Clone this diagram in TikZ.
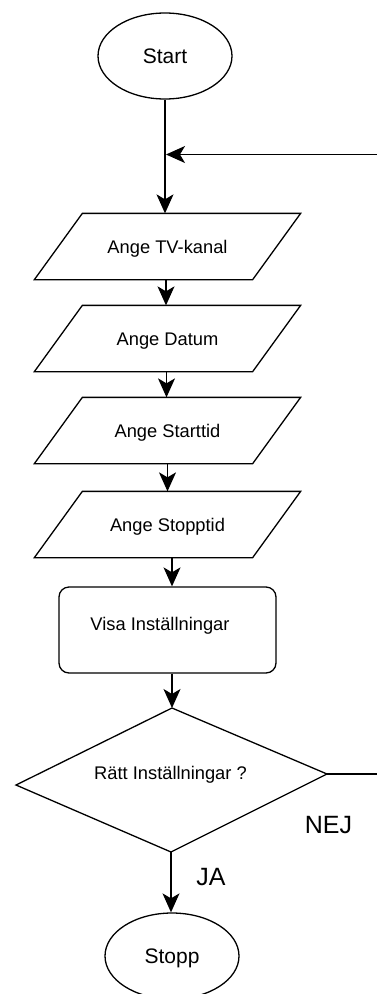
\documentclass[tikz,border=0pt]{standalone}
\usepackage{fontspec}
\setmainfont{Liberation Sans}
\usetikzlibrary{arrows.meta,shapes.geometric}
\newcommand{\bodyfont}{\fontsize{18.3}{22}\selectfont}
\begin{document}
\begin{tikzpicture}[x=1pt,y=-1pt,line width=1.3pt,
  arr/.style={-{Stealth[length=19pt,width=17pt,inset=5pt]}},
  term/.style={ellipse,draw,minimum width=134pt,minimum height=86pt,inner sep=0pt,
    font=\fontsize{21}{25}\selectfont,text height=15pt,text depth=0pt},
  iobox/.style={minimum width=217pt,minimum height=65pt,inner sep=0pt,
    font=\bodyfont,text height=13.1pt,text depth=0pt},
  plain/.style={inner sep=0pt,font=\bodyfont,text height=13.1pt,text depth=0pt},
  answer/.style={inner sep=0pt,anchor=base,font=\fontsize{25}{30}\selectfont}]

  \useasboundingbox (0,0) rectangle (377,994);
  \fill[white] (0,0) rectangle (377,994);

  % terminals
  \node[term] (start) at (165,56) {Start};
  \node[term] (stopp) at (172,956) {Stopp};

  % input steps (parallelograms drawn around the nodes below)
  \node[iobox] (p1) at (167.5,246.5) {Ange TV-kanal};
  \node[iobox] (p2) at (167.5,338.5) {Ange Datum};
  \node[iobox] (p3) at (167.5,430.5) {Ange Starttid};
  \node[iobox] (p4) at (167.5,524.5) {Ange Stopptid};
  \foreach \n in {p1,p2,p3,p4}
    \draw ([xshift=24pt]\n.north west) -- ([xshift=24pt]\n.north east)
       -- ([xshift=-24pt]\n.south east) -- ([xshift=-24pt]\n.south west) -- cycle;

  % display step
  \node[draw,rounded corners=10pt,minimum width=217pt,minimum height=86pt,inner sep=0pt]
    (vis) at (167.5,630) {};
  \node[plain] (vistxt) at (160,624) {Visa Inställningar};

  % decision
  \coordinate (dT) at (172,708);
  \coordinate (dR) at (327,774);
  \coordinate (dB) at (171,852);
  \coordinate (dL) at (16,785);
  \draw (dT) -- (dR) -- (dB) -- (dL) -- cycle;
  \node[plain] (dtxt) at (170.5,773) {Rätt Inställningar ?};

  % loop ends leaving the sheet on the right
  \coordinate (loopin) at (377,154.5);
  \coordinate (loopout) at (377,774);

  % connectors
  \draw[arr] (start.south) -- (start.south |- p1.north);
  \draw[arr] (loopin) -- ([xshift=1pt]start.south |- loopin);
  \draw[arr] ([xshift=-1.5pt]p1.south) -- ([xshift=-1.5pt]p2.north);
  \draw[arr] ([xshift=-1pt]p2.south) -- ([xshift=-1pt]p3.north);
  \draw[arr] (p3.south) -- (p4.north);
  \draw[arr] ([xshift=4.5pt]p4.south) -- ([xshift=4.5pt]vis.north);
  \draw[arr] (vis.south -| dT) -- (dT);
  \draw[arr] (dB) -- (dB |- stopp.north);
  \draw (dR) -- (loopout);

  % branch labels
  \node[answer] (nej) at (328.5,833) {NEJ};
  \node[answer] (ja) at (211,885) {JA};
\end{tikzpicture}
\end{document}
